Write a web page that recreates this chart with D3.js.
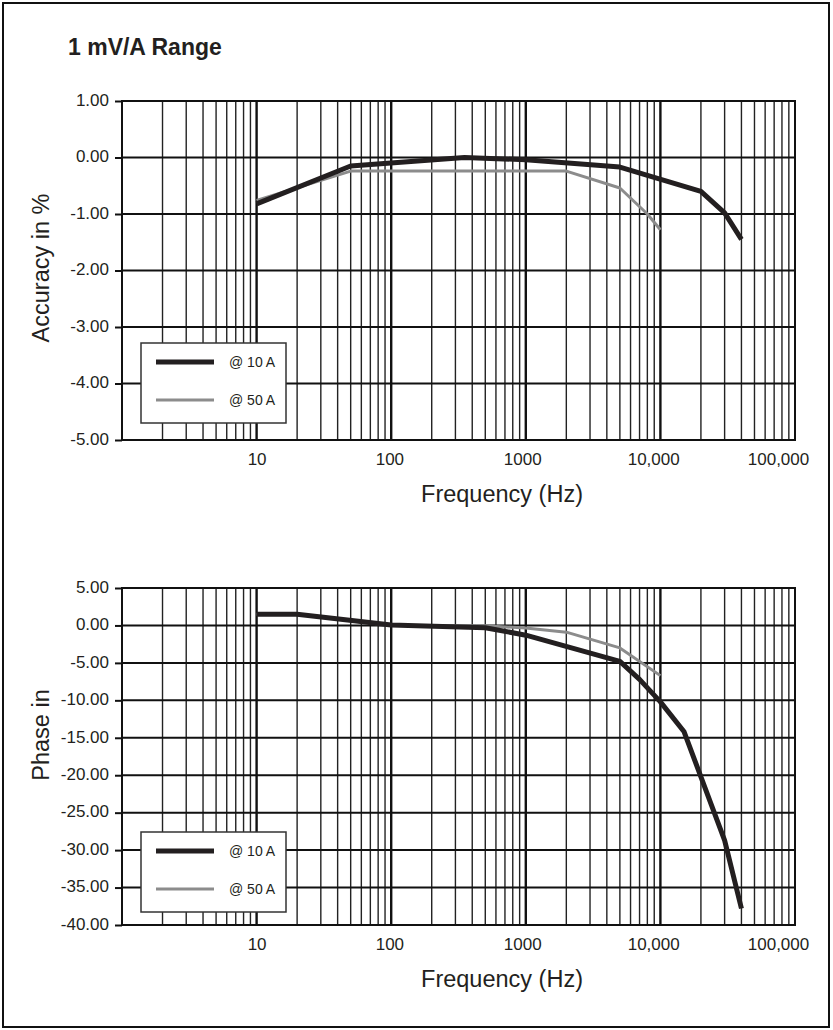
<!DOCTYPE html>
<html>
<head>
<meta charset="utf-8">
<script src="https://cdn.jsdelivr.net/npm/d3@7"></script>
<style>
    body { margin: 0; background: #fff; }
    svg text { font-family: "Liberation Sans", Arial, sans-serif; fill: #231f20; }
</style>
</head>
<body>
<svg id="chart" width="833" height="1030"></svg>
<script>
    // values
    var title = '1 mV/A Range';
    var seriesNames = ['@ 10 A', '@ 50 A'];

    var xTickValues = [10, 100, 1000, 10000, 100000];
    var xTickLabels = ['10', '100', '1000', '10,000', '100,000'];

    var accTicks = [1, 0, -1, -2, -3, -4, -5];
    var phaseTicks = [5, 0, -5, -10, -15, -20, -25, -30, -35, -40];

    // accuracy, % (top chart)
    var accFreq10 = [10, 50, 350, 1000, 5000, 20000, 30000, 40000];
    var accVal10 = [-0.82, -0.15, 0.0, -0.04, -0.17, -0.6, -0.98, -1.45];
    var accFreq50 = [10, 50, 2000, 5000, 8000, 10000];
    var accVal50 = [-0.76, -0.24, -0.24, -0.54, -1.0, -1.28];

    // phase (bottom chart)
    var phFreq10 = [10, 20, 100, 500, 1000, 5000, 7000, 10000, 15000, 30000, 40000];
    var phVal10 = [1.5, 1.5, 0.05, -0.3, -1.3, -4.8, -7.2, -10.2, -14.2, -28.7, -37.8];
    var phFreq50 = [10, 20, 100, 500, 1000, 2000, 5000, 10000];
    var phVal50 = [1.5, 1.5, 0.0, -0.05, -0.35, -0.9, -3.0, -6.7];

    var svg = d3.select('#chart');

    // outer frame
    svg.append('rect')
        .attr('x', 3).attr('y', 3)
        .attr('width', 826).attr('height', 1024)
        .style('fill', 'none').style('stroke', '#111').style('stroke-width', 2);

    svg.append('text')
        .attr('x', 68).attr('y', 55)
        .style('font-size', '23px').style('font-weight', 'bold')
        .text(title);

    var x = d3.scaleLog().domain([1, 100000]).range([122, 795]);

    // minor grid values 1..9 per decade
    var gridX = [];
    for (var d = 1; d < 100000; d *= 10) {
        for (var m = 2; m <= 9; m++) gridX.push(d * m);
    }

    function zipPoints(fs, vs) {
        return fs.map(function (f, i) { return [f, vs[i]] });
    }

    // draws one panel of the figure
    function drawPanel(opts) {
        var y = d3.scaleLinear().domain(opts.domain).range(opts.range);
        var g = svg.append('g');
        var top = opts.range[0], bottom = opts.range[1];

        g.selectAll('.vgrid')
            .data(gridX)
            .enter().append('line')
            .attr('x1', function (d) { return x(d) }).attr('x2', function (d) { return x(d) })
            .attr('y1', top).attr('y2', bottom)
            .style('stroke', '#222').style('stroke-width', 1.4);

        g.selectAll('.vmajor')
            .data(xTickValues.slice(0, 4))
            .enter().append('line')
            .attr('x1', function (d) { return x(d) }).attr('x2', function (d) { return x(d) })
            .attr('y1', top).attr('y2', bottom)
            .style('stroke', '#111').style('stroke-width', 2.4);

        g.selectAll('.hgrid')
            .data(opts.ticks)
            .enter().append('line')
            .attr('x1', 122).attr('x2', 795)
            .attr('y1', function (d) { return y(d) }).attr('y2', function (d) { return y(d) })
            .style('stroke', '#111').style('stroke-width', 2);

        g.append('rect')
            .attr('x', 122).attr('y', top)
            .attr('width', 795 - 122).attr('height', bottom - top)
            .style('fill', 'none').style('stroke', '#111').style('stroke-width', 2);

        // y axis labels + short ticks
        var yAxis = d3.axisLeft(y).tickValues(opts.ticks).tickSize(7).tickPadding(6)
            .tickFormat(function (d) { return d.toFixed(2) });
        var ya = g.append('g').attr('transform', 'translate(122,0)').call(yAxis);
        ya.select('.domain').remove();
        ya.selectAll('line').style('stroke', '#111').style('stroke-width', 2);
        ya.selectAll('text').style('font-size', '17px').style('font-family', '"Liberation Sans", Arial, sans-serif')
            .style('fill', '#231f20').attr('dy', '0.25em');

        // x axis labels
        var xAxis = d3.axisBottom(x).tickValues(xTickValues).tickSize(0).tickPadding(13)
            .tickFormat(function (d, i) { return xTickLabels[i] });
        var xa = g.append('g').attr('transform', 'translate(0,' + bottom + ')').call(xAxis);
        xa.select('.domain').remove();
        xa.selectAll('text').style('font-size', '17px').style('font-family', '"Liberation Sans", Arial, sans-serif')
            .style('fill', '#231f20')
            .attr('dx', function (d, i) {
                var n = xTickLabels[i].length;
                return n > 6 ? -17 : -(n - 2) * 1.8;
            });

        g.append('text')
            .attr('x', 502).attr('y', bottom + 62)
            .attr('text-anchor', 'middle')
            .style('font-size', '23.5px')
            .text('Frequency (Hz)');

        g.append('text')
            .attr('transform', 'translate(49,' + opts.titleY + ') rotate(-90)')
            .attr('text-anchor', 'middle')
            .style('font-size', '23.5px')
            .text(opts.yTitle);

        var line = d3.line()
            .x(function (d) { return x(d[0]) })
            .y(function (d) { return y(d[1]) });

        g.append('path')
            .datum(zipPoints(opts.f50, opts.v50))
            .attr('d', line)
            .style('fill', 'none').style('stroke', '#8c8c8c').style('stroke-width', 3)
            .style('stroke-linejoin', 'round');

        g.append('path')
            .datum(zipPoints(opts.f10, opts.v10))
            .attr('d', line)
            .style('fill', 'none').style('stroke', '#231f20').style('stroke-width', 5)
            .style('stroke-linejoin', 'round');

        // legend
        var lg = g.append('g').attr('transform', 'translate(141,' + opts.legendY + ')');
        lg.append('rect')
            .attr('width', 145).attr('height', 80)
            .style('fill', '#fff').style('stroke', '#333').style('stroke-width', 1.5);
        var rows = [
            {name: seriesNames[0], color: '#231f20', w: 5, dy: 19},
            {name: seriesNames[1], color: '#8c8c8c', w: 3, dy: 57}
        ];
        rows.forEach(function (r) {
            lg.append('line')
                .attr('x1', 15).attr('x2', 73)
                .attr('y1', r.dy).attr('y2', r.dy)
                .style('stroke', r.color).style('stroke-width', r.w);
            lg.append('text')
                .attr('x', 88).attr('y', r.dy + 5)
                .style('font-size', '14px')
                .text(r.name);
        });
    }

    drawPanel({
        domain: [1, -5], range: [101, 440], ticks: accTicks,
        yTitle: 'Accuracy in %', titleY: 268, legendY: 343,
        f10: accFreq10, v10: accVal10, f50: accFreq50, v50: accVal50
    });

    drawPanel({
        domain: [5, -40], range: [588, 925], ticks: phaseTicks,
        yTitle: 'Phase in', titleY: 735, legendY: 832,
        f10: phFreq10, v10: phVal10, f50: phFreq50, v50: phVal50
    });
</script>
</body>
</html>
